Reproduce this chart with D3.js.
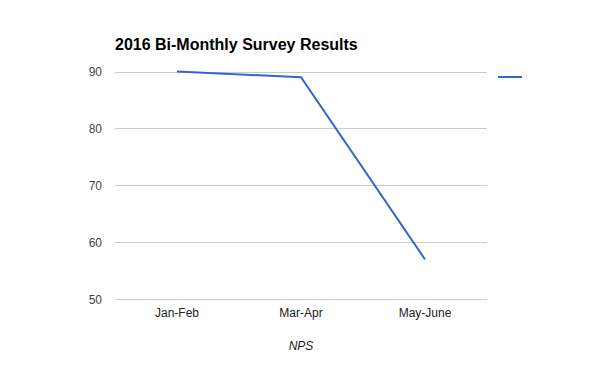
<!DOCTYPE html>
<html>
<head>
<meta charset="utf-8">
<script src="https://cdn.jsdelivr.net/npm/d3@7"></script>
<style>
  body { margin: 0; background: #fff; }
  text { font-family: Arial, "Liberation Sans", sans-serif; }
</style>
</head>
<body>
<div id="chart"></div>
<script>
const categories = ["Jan-Feb", "Mar-Apr", "May-June"];
const npsValues = [90, 89, 57];
const yTicks = [50, 60, 70, 80, 90];

const WIDTH = 600, HEIGHT = 371;
const MARGIN = {left: 115, right: 113, top: 71.5, bottom: 71.5};

const svg = d3.select("#chart")
    .append("svg")
    .attr("width", WIDTH)
    .attr("height", HEIGHT);

const x = d3.scaleBand()
    .domain(categories)
    .range([MARGIN.left, WIDTH - MARGIN.right]);

const y = d3.scaleLinear()
    .domain([50, 90])
    .range([HEIGHT - MARGIN.bottom - 0.3, MARGIN.top]);

// gridlines + y labels
const yAxis = svg.append("g")
    .attr("transform", `translate(${MARGIN.left},0)`)
    .call(d3.axisLeft(y).tickValues(yTicks)
        .tickSize(-(WIDTH - MARGIN.left - MARGIN.right))
        .tickPadding(13));
yAxis.select(".domain").remove();
yAxis.selectAll("line").attr("stroke", "#cccccc").attr("shape-rendering", "crispEdges");
yAxis.selectAll("text")
    .attr("fill", "#444")
    .style("font-size", "12px")
    .attr("dy", "0.35em");

// x labels
const xAxis = svg.append("g")
    .attr("transform", `translate(0,${HEIGHT - MARGIN.bottom})`)
    .call(d3.axisBottom(x).tickSize(0).tickPadding(9));
xAxis.select(".domain").remove();
xAxis.selectAll("text")
    .attr("fill", "#222")
    .style("font-size", "12px");

// line
const line = d3.line()
    .x((d, i) => x(categories[i]) + x.bandwidth() / 2)
    .y(d => y(d));

svg.append("path")
    .datum(npsValues)
    .attr("fill", "none")
    .attr("stroke", "#3366cc")
    .attr("stroke-width", 2)
    .attr("d", line);

// title
svg.append("text")
    .attr("x", MARGIN.left)
    .attr("y", 50)
    .style("font-size", "16px")
    .style("font-weight", "bold")
    .attr("fill", "#000")
    .text("2016 Bi-Monthly Survey Results");

// x axis title
svg.append("text")
    .attr("x", (MARGIN.left + WIDTH - MARGIN.right) / 2)
    .attr("y", 350)
    .attr("text-anchor", "middle")
    .style("font-size", "12px")
    .style("font-style", "italic")
    .attr("fill", "#222")
    .text("NPS");

// legend
svg.append("line")
    .attr("x1", 498).attr("x2", 522)
    .attr("y1", 77).attr("y2", 77)
    .attr("stroke", "#3366cc")
    .attr("stroke-width", 2);
</script>
</body>
</html>
